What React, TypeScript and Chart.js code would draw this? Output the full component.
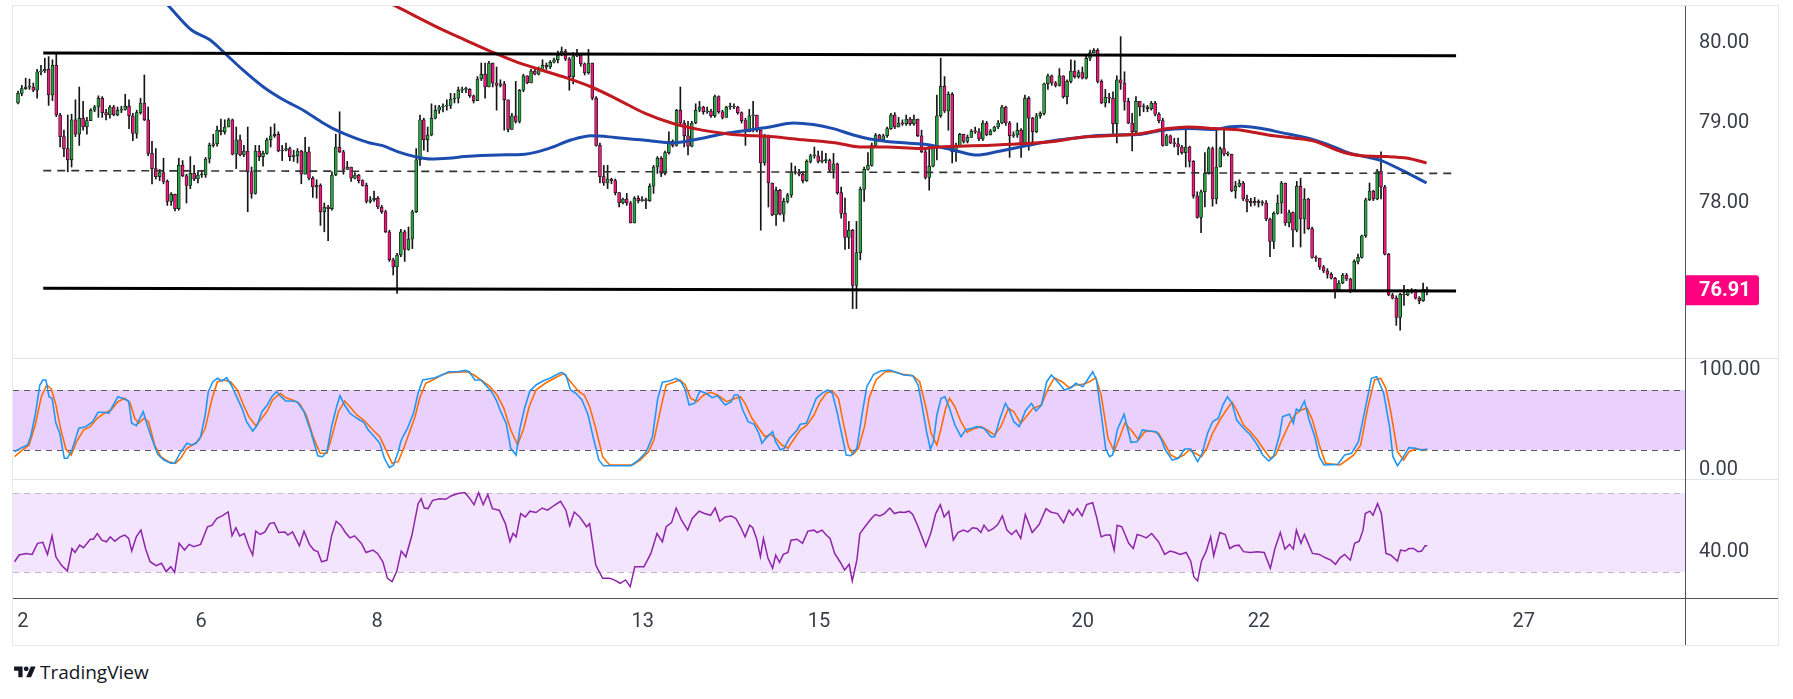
import React, { useEffect, useRef } from 'react';
import { Chart, registerables } from 'chart.js';

Chart.register(...registerables);
Chart.defaults.font.family = 'Roboto, "Noto Sans", sans-serif';

// ---------------- DATA ----------------
const FIRST_OPEN = 79.25;

const closes = [
  79.37, 79.43, 79.45, 79.45, 79.41, 79.64, 79.65, 79.67, 79.35, 79.72,
  79.10, 78.83, 78.68, 78.54, 79.04, 78.86, 79.06, 78.95, 79.03, 79.16,
  79.20, 79.31, 79.13, 79.10, 79.20, 79.10, 79.16, 79.17, 79.21, 79.09,
  78.87, 79.13, 79.25, 79.04, 78.62, 78.43, 78.33, 78.38, 78.27, 78.02,
  78.11, 77.93, 78.47, 78.34, 78.22, 78.37, 78.30, 78.35, 78.35, 78.55,
  78.72, 78.74, 78.91, 78.89, 78.95, 79.04, 78.61, 78.79, 78.60, 78.65,
  78.39, 78.12, 78.65, 78.58, 78.62, 78.79, 78.84, 78.86, 78.65, 78.66,
  78.68, 78.58, 78.59, 78.65, 78.36, 78.64, 78.31, 78.20, 78.22, 77.89,
  77.95, 77.93, 78.35, 78.70, 78.64, 78.42, 78.45, 78.31, 78.35, 78.28,
  78.22, 78.02,
  78.04, 78.06, 77.95, 77.89, 77.64, 77.29, 77.20, 77.35, 77.64, 77.42,
  77.55, 77.89, 78.54, 79.04, 78.79, 78.85, 79.06, 79.16, 79.20, 79.21,
  79.22, 79.30, 79.31, 79.41, 79.42, 79.42, 79.34, 79.28, 79.55, 79.61,
  79.45, 79.75, 79.50, 79.47, 79.49, 79.29, 78.92, 79.09, 79.02, 79.41,
  79.59, 79.50, 79.65, 79.61, 79.67, 79.72, 79.70, 79.76, 79.79, 79.85,
  79.90, 79.80, 79.58, 79.84, 79.85, 79.74, 79.63, 79.75, 79.31, 78.72,
  78.33, 78.25, 78.30, 78.28, 78.13, 78.00, 78.05, 78.00, 77.75, 78.06,
  78.03, 78.04, 78.03, 78.21, 78.45, 78.56, 78.37, 78.63, 78.77, 78.72,
  79.16, 79.00, 78.84, 78.71, 79.00, 79.16, 79.20, 79.14, 79.15, 79.09,
  79.33, 79.14, 79.07,
  79.20, 79.20, 79.20, 79.13, 79.03, 78.89, 79.09, 79.10, 78.91, 78.50,
  78.83, 78.25, 77.85, 78.16, 77.86, 78.02, 78.10, 78.38, 78.38, 78.36,
  78.28, 78.52, 78.59, 78.59, 78.52, 78.53, 78.53, 78.41, 78.49, 78.13,
  77.87, 77.57, 77.66, 76.97, 77.38, 78.17, 78.42, 78.47, 78.72, 78.85,
  78.79, 78.84, 78.93, 79.10, 78.95, 79.00, 78.99, 79.05, 78.99, 79.05,
  78.84, 78.64, 78.32, 78.46, 78.70, 79.09, 79.46, 79.15, 79.36, 78.64,
  78.72, 78.86, 78.77, 78.82, 78.90, 78.89, 78.80, 79.00, 78.85, 78.90,
  78.95, 79.00, 79.20, 79.00, 78.84, 78.85, 78.91, 78.74, 79.31, 79.06,
  78.89, 79.09, 79.12, 79.49, 79.59, 79.50, 79.47, 79.59, 79.33, 79.52,
  79.65, 79.58, 79.63,
  79.56, 79.81, 79.88, 79.91, 79.52, 79.25, 79.32, 79.31, 78.99, 79.54,
  79.50, 79.27, 79.00, 78.89, 79.27, 79.20, 79.20, 79.18, 79.25, 79.11,
  79.03, 78.72, 78.84, 78.75, 78.74, 78.70, 78.63, 78.70, 78.52, 78.09,
  77.82, 78.14, 78.37, 78.68, 78.05, 78.45, 78.68, 78.61, 78.61, 78.15,
  78.21, 78.25, 78.05, 78.02, 78.00, 78.02, 78.00, 78.00, 77.80, 77.52,
  77.87, 78.00, 78.25, 77.75, 77.88, 77.66, 78.21, 77.80, 78.05, 77.68,
  77.32, 77.31, 77.20, 77.15, 77.11, 77.06, 76.91, 77.00, 77.10, 77.05,
  76.92, 77.27, 77.32, 77.59, 78.04, 78.15, 78.05, 78.40, 78.20, 77.36,
  76.85, 76.81, 76.57, 76.86, 76.85, 76.90, 76.90, 76.81, 76.78, 76.92,
  76.91,
];

const highs = [
  79.40, 79.47, 79.56, 79.55, 79.50, 79.67, 79.72, 79.81, 79.83, 79.79,
  79.86, 79.12, 78.91, 79.10, 79.11, 79.29, 79.45, 79.27, 79.07, 79.18,
  79.22, 79.34, 79.33, 79.17, 79.22, 79.22, 79.20, 79.21, 79.36, 79.29,
  79.12, 79.16, 79.31, 79.60, 79.20, 78.77, 78.68, 78.42, 78.56, 78.29,
  78.13, 78.10, 78.56, 78.53, 78.36, 78.58, 78.47, 78.39, 78.40, 78.57,
  78.75, 78.86, 78.96, 79.05, 79.04, 79.06, 79.05, 78.95, 78.85, 78.72,
  78.95, 78.45, 78.72, 78.72, 78.65, 78.81, 78.95, 78.99, 78.89, 78.72,
  78.75, 78.70, 78.66, 78.68, 78.66, 78.82, 78.70, 78.33, 78.29, 78.24,
  78.00, 77.97, 78.39, 78.86, 79.14, 78.66, 78.52, 78.43, 78.38, 78.36,
  78.29, 78.25,
  78.08, 78.15, 78.08, 77.97, 77.91, 77.66, 77.31, 77.37, 77.67, 77.66,
  77.70, 77.91, 78.68, 79.10, 79.06, 78.95, 79.24, 79.22, 79.22, 79.24,
  79.29, 79.37, 79.37, 79.45, 79.45, 79.45, 79.43, 79.35, 79.58, 79.75,
  79.75, 79.77, 79.75, 79.70, 79.54, 79.52, 79.29, 79.12, 79.52, 79.42,
  79.61, 79.58, 79.67, 79.68, 79.70, 79.79, 79.75, 79.78, 79.81, 79.90,
  79.95, 79.92, 79.82, 79.88, 79.92, 79.87, 79.75, 79.92, 79.75, 79.33,
  78.75, 78.47, 78.47, 78.31, 78.30, 78.10, 78.06, 78.12, 78.02, 78.08,
  78.09, 78.08, 78.06, 78.24, 78.47, 78.58, 78.58, 78.65, 78.89, 78.79,
  79.17, 79.45, 79.03, 79.02, 79.02, 79.24, 79.27, 79.21, 79.20, 79.17,
  79.35, 79.34, 79.16,
  79.21, 79.25, 79.24, 79.21, 79.14, 79.06, 79.17, 79.27, 79.07, 78.91,
  78.86, 78.85, 78.25, 78.20, 78.17, 78.06, 78.12, 78.50, 78.46, 78.42,
  78.39, 78.54, 78.61, 78.70, 78.65, 78.65, 78.62, 78.55, 78.62, 78.50,
  78.20, 78.06, 77.77, 77.67, 77.77, 78.20, 78.45, 78.63, 78.75, 78.87,
  78.86, 78.86, 78.95, 79.12, 79.13, 79.07, 79.04, 79.10, 79.07, 79.10,
  79.02, 78.91, 78.66, 78.72, 78.72, 79.35, 79.81, 79.58, 79.39, 79.38,
  78.75, 78.87, 78.86, 78.85, 78.92, 78.95, 78.93, 79.03, 79.02, 78.92,
  78.96, 79.03, 79.22, 79.21, 79.02, 78.89, 79.00, 78.93, 79.35, 79.33,
  79.07, 79.12, 79.14, 79.50, 79.61, 79.60, 79.52, 79.68, 79.52, 79.54,
  79.79, 79.78, 79.66,
  79.70, 79.84, 79.91, 79.93, 79.93, 79.54, 79.42, 79.37, 79.39, 79.59,
  80.08, 79.64, 79.31, 79.12, 79.33, 79.25, 79.24, 79.22, 79.27, 79.27,
  79.13, 79.06, 78.86, 78.85, 78.81, 78.81, 78.72, 78.95, 78.71, 78.53,
  78.14, 78.16, 78.63, 78.70, 78.70, 78.91, 78.70, 78.91, 78.64, 78.61,
  78.27, 78.29, 78.27, 78.10, 78.06, 78.07, 78.04, 78.03, 78.03, 77.81,
  77.89, 78.10, 78.27, 78.25, 77.91, 77.89, 78.27, 78.31, 78.18, 78.06,
  77.70, 77.34, 77.31, 77.22, 77.18, 77.13, 77.07, 77.03, 77.12, 77.12,
  77.06, 77.29, 77.36, 77.60, 78.06, 78.25, 78.16, 78.42, 78.64, 78.22,
  77.37, 76.87, 76.84, 76.87, 76.97, 76.92, 76.93, 76.92, 76.83, 77.00,
  76.95,
];

const lows = [
  79.24, 79.34, 79.42, 79.42, 79.39, 79.31, 79.60, 79.63, 79.22, 79.28,
  79.08, 78.70, 78.58, 78.39, 78.45, 78.83, 78.72, 78.91, 78.86, 79.05,
  79.14, 79.07, 79.07, 79.04, 79.06, 79.09, 79.09, 79.13, 79.16, 78.93,
  78.78, 78.81, 79.11, 79.03, 78.59, 78.24, 78.30, 78.28, 78.24, 77.97,
  77.97, 77.90, 77.91, 78.33, 78.00, 78.18, 78.28, 78.25, 78.32, 78.32,
  78.50, 78.70, 78.71, 78.85, 78.86, 78.95, 78.60, 78.43, 78.59, 78.58,
  77.89, 78.06, 78.11, 78.53, 78.46, 78.61, 78.70, 78.82, 78.64, 78.53,
  78.65, 78.53, 78.52, 78.50, 78.24, 78.36, 78.29, 78.07, 78.06, 77.72,
  77.64, 77.53, 77.91, 78.34, 78.63, 78.36, 78.42, 78.27, 78.30, 78.25,
  78.21, 78.00,
  78.00, 78.02, 77.93, 77.87, 77.63, 77.27, 77.10, 76.87, 77.33, 77.27,
  77.41, 77.43, 77.88, 78.47, 78.66, 78.64, 78.84, 79.05, 79.12, 79.14,
  79.16, 79.18, 79.25, 79.25, 79.38, 79.38, 79.32, 79.25, 79.28, 79.53,
  79.31, 79.45, 79.45, 79.16, 79.45, 78.91, 78.89, 78.92, 79.00, 79.00,
  79.39, 79.49, 79.50, 79.60, 79.60, 79.65, 79.67, 79.68, 79.75, 79.75,
  79.84, 79.78, 79.41, 79.49, 79.83, 79.71, 79.60, 79.61, 79.29, 78.71,
  78.25, 78.22, 78.18, 78.24, 78.10, 77.95, 77.99, 77.97, 77.75, 77.75,
  78.00, 78.02, 77.93, 78.02, 78.12, 78.37, 78.33, 78.35, 78.61, 78.70,
  78.71, 78.99, 78.70, 78.60, 78.70, 78.99, 79.14, 79.11, 79.12, 79.07,
  79.07, 79.12, 79.05,
  79.07, 79.17, 79.18, 79.11, 79.00, 78.72, 78.89, 78.89, 78.89, 77.66,
  78.47, 77.95, 77.84, 77.72, 77.85, 77.77, 78.00, 78.07, 78.36, 78.34,
  78.25, 78.27, 78.50, 78.56, 78.50, 78.50, 78.50, 78.39, 78.31, 78.11,
  77.81, 77.42, 77.43, 76.68, 76.68, 77.29, 78.02, 78.41, 78.46, 78.70,
  78.77, 78.81, 78.82, 78.92, 78.93, 78.95, 78.97, 78.97, 78.97, 78.97,
  78.83, 78.63, 78.30, 78.16, 78.45, 78.54, 79.07, 79.13, 78.91, 78.50,
  78.52, 78.70, 78.75, 78.75, 78.85, 78.87, 78.78, 78.78, 78.84, 78.85,
  78.89, 78.93, 78.99, 78.97, 78.57, 78.82, 78.82, 78.57, 78.72, 78.66,
  78.75, 78.88, 79.06, 79.10, 79.42, 79.47, 79.45, 79.46, 79.31, 79.24,
  79.50, 79.56, 79.56,
  79.55, 79.55, 79.78, 79.88, 79.50, 79.24, 79.20, 79.25, 78.87, 78.75,
  79.42, 79.16, 78.99, 78.65, 78.87, 79.09, 79.14, 79.14, 79.16, 79.09,
  79.00, 78.71, 78.72, 78.74, 78.70, 78.60, 78.61, 78.45, 78.45, 78.06,
  77.81, 77.63, 77.95, 78.36, 77.96, 77.99, 78.45, 78.59, 78.59, 78.14,
  78.06, 78.20, 78.03, 77.89, 77.96, 77.97, 77.95, 77.97, 77.78, 77.33,
  77.43, 77.86, 77.87, 77.72, 77.70, 77.45, 77.64, 77.45, 77.62, 77.67,
  77.31, 77.27, 77.17, 77.13, 77.06, 77.05, 76.81, 76.90, 76.99, 77.03,
  76.88, 76.91, 77.24, 77.31, 77.57, 78.03, 78.03, 78.04, 78.05, 77.35,
  76.84, 76.80, 76.47, 76.41, 76.72, 76.84, 76.87, 76.80, 76.74, 76.77,
  76.85,
];

// moving averages: [bar index, price]
const blueMA = [
  [35, 80.68], [39.4, 80.46], [45.4, 80.16], [50.1, 80.04], [54.5, 79.85], [58.8, 79.66],
  [64.1, 79.45], [69.3, 79.29], [74.5, 79.16], [79.7, 79.0], [82.3, 78.93], [87.6, 78.82],
  [91.9, 78.75], [95.0, 78.72], [99.3, 78.64], [103.7, 78.58], [108.0, 78.55], [112.4, 78.56],
  [116.7, 78.58], [125.4, 78.6], [132.4, 78.61], [138.5, 78.68], [144.6, 78.79], [149.8, 78.84],
  [155.9, 78.82], [164.6, 78.78], [170.7, 78.75], [177.7, 78.8], [184.6, 78.87], [187.7, 78.89],
  [192.0, 78.92], [196.4, 78.95], [202.5, 79.0], [207.7, 78.98], [212.9, 78.93], [218.2, 78.85],
  [222.5, 78.8], [226.9, 78.77], [232.1, 78.75], [237.3, 78.73], [243.4, 78.67], [246.0, 78.64],
  [250.4, 78.6], [255.6, 78.64], [261.7, 78.7], [266.9, 78.75], [272.1, 78.79], [277.4, 78.82],
  [281.3, 78.84], [286.5, 78.85], [293.5, 78.86], [298.7, 78.91], [305.6, 78.93], [312.6, 78.92],
  [316.1, 78.95], [319.6, 78.96], [324.8, 78.93], [330.0, 78.88], [337.0, 78.81], [342.2, 78.73],
  [347.4, 78.63], [352.7, 78.57], [356.1, 78.53], [361.4, 78.41], [367.9, 78.25],
];
const redMA = [
  [92, 80.62], [98.7, 80.46], [111.1, 80.16], [116.7, 80.04], [123.7, 79.89], [129.8, 79.77],
  [136.8, 79.66], [142.9, 79.57], [149.8, 79.45], [156.8, 79.29], [163.8, 79.12], [170.7, 79.0],
  [177.7, 78.92], [184.6, 78.87], [188.6, 78.85], [196.4, 78.83], [205.1, 78.79], [213.8, 78.75],
  [219.9, 78.7], [226.9, 78.7], [235.6, 78.68], [240.8, 78.7], [246.0, 78.71], [253.0, 78.72],
  [261.7, 78.74], [270.4, 78.77], [277.4, 78.82], [284.7, 78.84], [293.5, 78.87], [300.4, 78.93],
  [305.6, 78.95], [312.6, 78.93], [319.6, 78.91], [326.5, 78.85], [333.5, 78.81], [338.7, 78.77],
  [345.7, 78.64], [350.9, 78.59], [357.8, 78.58], [363.0, 78.56], [367.9, 78.5],
];

// drawn channel lines: [bar index, price]
const channelTop = [[6.6, 79.875], [375.6, 79.84]];
const channelMid = [[6.6, 78.405], [375.6, 78.37]];
const channelBottom = [[6.6, 76.935], [375.6, 76.9]];

// Stoch RSI K / D: [bar index, value]
const stochK = [
  [-0.9, 18.3], [0.9, 22.3], [2.5, 25], [3.3, 33.3], [4.5, 55], [5.7, 85], [6.5, 90], [7.3, 90],
  [8.1, 73.3], [8.9, 71.7], [9.9, 46.7], [10.9, 36.7], [12.1, 11.7], [12.9, 11.7], [14.1, 20],
  [15.9, 41.7], [17.7, 43.3], [19.5, 48.3], [20.9, 57.7], [22.5, 57.7], [23.7, 56.7], [24.9, 65],
  [26.1, 73.3], [27.3, 71.7], [28.9, 69], [29.7, 46.7], [30.9, 44.3], [32.7, 58.3], [33.9, 43.3],
  [35.1, 30], [36.5, 15.7], [38.1, 10], [39.9, 6.7], [40.9, 6.7], [42.3, 16.7], [44.1, 26.7],
  [45.3, 25], [46.5, 26.7], [47.7, 33.3], [48.9, 55], [49.7, 78.3], [50.9, 88.3], [52.1, 91.7],
  [53.3, 89], [54.5, 92.3], [55.7, 85], [57.3, 71.7], [58.5, 61.7], [59.7, 48.3], [61.3, 39],
  [62.5, 45], [63.7, 58.3], [65.1, 65], [66.3, 73.3], [67.5, 78.3], [68.7, 73.3], [69.9, 69],
  [71.3, 69], [72.9, 68.3], [74.7, 58.3], [76.5, 38.3], [78.3, 14.3], [79.5, 13.3], [80.7, 18.3],
  [81.9, 43.3], [83.1, 61.7], [84.1, 74.3], [85.3, 65], [86.7, 56.7], [88.5, 51.7], [90.3, 47.7],
  [91.5, 40], [93.3, 32.3], [94.5, 26.7], [95.7, 11.7], [97.0, 2.3], [98.1, 5], [99.3, 18.3],
  [100.1, 30], [101.7, 41.7], [103.3, 56.7], [104.5, 76.7], [105.7, 90], [107.1, 91], [108.9, 92.3],
  [110.7, 95], [112.5, 98.3], [114.9, 98.3], [116.7, 99.6], [117.9, 98.3], [119.3, 90], [120.9, 90],
  [122.1, 85], [123.7, 78.3], [124.9, 70], [126.1, 58.3], [127.5, 46.7], [128.7, 21.7], [130.1, 15],
  [131.1, 41.7], [132.3, 61.7], [133.7, 79], [135.3, 85], [137.1, 89], [138.9, 91.7], [140.5, 95],
  [141.9, 97.6], [143.1, 95], [144.3, 80], [145.7, 76.7], [147.3, 70], [148.9, 55], [150.3, 31.7],
  [151.7, 10], [152.9, 4.3], [160.1, 4.3], [162.1, 10], [164.1, 18.3], [165.7, 33.3], [167.1, 71.7],
  [168.3, 87.7], [170.1, 89], [171.9, 91.7], [173.3, 87.7], [174.3, 80], [175.3, 65], [176.7, 66.7],
  [178.1, 79], [179.7, 76.7], [181.3, 72.3], [182.7, 74.3], [184.7, 65], [186.3, 68.3], [187.1, 75],
  [188.1, 75], [189.3, 60], [190.7, 48.3], [192.3, 45.7], [193.5, 36.7], [194.3, 26.7], [195.3, 31.7],
  [197.1, 38.3], [197.9, 28.3], [199.1, 20], [200.1, 21.7], [201.5, 31.7], [203.5, 40], [204.3, 45.7],
  [205.9, 46.7], [207.3, 60], [208.5, 71.7], [210.0, 76.7], [211.5, 80], [212.7, 76.7], [213.9, 58.3],
  [215.1, 36.7], [216.3, 15], [217.5, 14.3], [219.1, 21.7], [220.5, 56.7], [221.7, 83.3], [223.5, 95.6],
  [225.3, 99], [227.7, 100], [229.5, 97.6], [231.3, 95], [233.7, 94.3], [235.1, 85], [236.1, 65],
  [237.3, 38.3], [238.3, 21], [239.1, 28.3], [240.0, 55], [241.1, 71.7], [242.1, 73.3], [243.3, 61.7],
  [244.7, 45], [246.3, 33.3], [247.5, 40], [249.1, 41.7], [250.5, 43.3], [252.3, 41.7], [254.1, 33.3],
  [255.1, 33.3], [256.5, 51.7], [257.9, 66.7], [258.9, 60], [260.1, 48.3], [261.5, 43.3], [263.1, 59],
  [264.7, 66.7], [265.9, 59], [267.3, 65], [268.7, 88.3], [269.9, 95], [271.9, 86.7], [273.3, 80],
  [275.1, 82.3], [276.3, 86.7], [278.1, 83.3], [279.3, 90], [280.7, 98.3], [281.7, 90], [282.9, 56.7],
  [284.1, 21], [285.1, 13.3], [285.9, 15], [287.1, 40], [288.9, 55.7], [290.7, 27.7], [292.3, 28.3],
  [293.7, 40], [295.5, 39], [297.3, 38.3], [298.5, 31.7], [299.7, 20], [301.5, 10], [303.1, 11.7],
  [304.7, 21], [306.3, 21], [308.1, 8.3], [309.3, 16.7], [310.7, 36.7], [312.0, 48.3], [313.5, 51.7],
  [314.7, 65], [315.9, 73.3], [317.1, 66.7], [318.3, 50], [320.1, 41.7], [321.9, 35], [323.7, 25],
  [325.1, 15], [326.7, 9], [327.9, 13.3], [329.5, 35], [330.3, 53.3], [332.1, 55.7], [333.1, 46.7],
  [333.9, 61], [334.7, 59], [336.0, 69], [337.1, 51.7], [338.7, 33.3], [339.9, 13.3], [341.1, 5],
  [344.7, 5.6], [346.5, 15], [348.3, 16.7], [350.1, 28.3], [351.9, 61.7], [353.5, 91.7], [354.9, 93.3],
  [356.7, 76.7], [358.3, 41.7], [359.1, 13.3], [360.3, 4.3], [361.5, 11], [363.3, 22.3], [365.1, 21.7],
  [366.3, 20], [368.1, 21],
];
const stochD = [
  [-0.9, 13.3], [1.5, 21], [2.9, 25], [4.5, 45], [6.1, 73.3], [7.5, 85], [8.7, 81], [9.9, 65],
  [11.1, 41.7], [12.5, 21], [13.9, 15], [15.3, 28.3], [17.1, 40], [18.9, 43.3], [20.7, 51.7],
  [22.5, 56.7], [24.3, 60], [26.1, 68.3], [27.9, 71.7], [29.3, 66.7], [30.5, 51.7], [31.5, 46.7],
  [32.9, 51.7], [34.1, 48.3], [35.7, 25], [37.3, 13.3], [39.3, 8.3], [41.1, 6.7], [42.5, 11.7],
  [44.1, 21.7], [45.9, 25.7], [47.3, 30], [48.9, 41.7], [50.7, 71.7], [52.1, 88.3], [53.7, 90],
  [55.5, 88.3], [57.3, 80], [58.9, 65], [60.3, 53.3], [62.1, 44.3], [63.7, 51.7], [65.1, 59],
  [66.5, 70], [68.5, 76.7], [69.9, 72.3], [71.7, 70], [73.5, 66.7], [75.3, 55], [77.1, 33.3],
  [78.9, 16.7], [80.7, 16.7], [82.1, 35], [83.7, 58.3], [85.3, 69], [86.7, 63.3], [88.5, 55],
  [90.3, 50], [92.7, 40], [94.5, 33.3], [96.3, 18.3], [97.7, 6.7], [99.3, 8.3], [100.9, 23.3],
  [102.3, 38.3], [103.7, 53.3], [104.9, 71.7], [106.5, 86.7], [108.3, 90], [110.7, 95], [112.5, 97.3],
  [117.3, 98.3], [119.1, 95], [120.9, 90], [123.3, 83.3], [125.1, 75], [126.9, 61.7], [128.7, 40],
  [130.5, 25], [132.1, 41.7], [133.5, 63.3], [135.3, 80], [137.7, 86.7], [140.1, 91.7], [142.5, 96.7],
  [144.3, 88.3], [146.5, 78.3], [147.9, 75], [149.3, 63.3], [150.9, 41.7], [152.7, 13.3], [154.5, 5],
  [160.5, 5], [162.5, 10], [164.7, 18.3], [166.1, 30], [167.7, 58.3], [169.3, 85], [171.3, 87.7],
  [172.9, 90], [174.3, 85], [175.7, 71.7], [177.3, 68.3], [179.1, 75], [180.9, 77.7], [182.7, 75],
  [185.1, 68.3], [186.9, 71], [188.7, 73.3], [189.9, 66.7], [191.7, 51.7], [193.5, 41.7], [195.1, 33.3],
  [196.5, 35.7], [197.9, 31.7], [199.5, 25], [201.1, 21.7], [202.5, 30], [204.3, 40], [206.1, 45],
  [207.9, 55], [209.5, 68.3], [211.1, 76.7], [212.7, 79], [214.3, 71.7], [215.5, 48.3], [216.9, 23.3],
  [218.1, 15.7], [219.5, 21.7], [221.1, 43.3], [222.3, 71.7], [224.1, 90], [226.5, 98.3], [228.9, 98.3],
  [231.3, 95.6], [233.7, 94.3], [235.5, 88.3], [237.1, 63.3], [238.5, 36.7], [240.0, 25], [241.1, 41.7],
  [242.3, 61.7], [243.3, 71.7], [244.7, 63.3], [246.3, 48.3], [247.9, 37.7], [249.5, 41], [251.5, 43.3],
  [253.1, 40], [255.1, 35], [256.7, 43.3], [258.7, 61.7], [260.1, 58.3], [261.9, 46.7], [263.7, 55],
  [265.1, 61.7], [267.3, 65], [269.1, 81.7], [270.7, 92.3], [272.7, 88.3], [274.5, 82.3], [276.3, 85],
  [278.1, 85.7], [279.9, 88.3], [281.5, 92.3], [282.9, 75], [284.7, 31.7], [286.3, 19], [287.7, 32.3],
  [289.1, 46.7], [291.1, 38.3], [292.7, 30], [294.3, 38.3], [296.1, 39], [297.9, 36.7], [299.5, 26.7],
  [301.1, 15], [302.7, 11.7], [304.5, 15], [305.9, 20], [307.5, 16.7], [309.1, 13.3], [310.5, 21.7],
  [312.0, 36.7], [313.9, 50], [315.3, 58.3], [317.1, 67.7], [318.3, 60], [320.1, 45], [321.9, 38.3],
  [323.7, 30], [325.5, 20], [327.1, 11.7], [328.5, 15], [330.3, 31.7], [332.1, 46.7], [333.5, 55],
  [335.1, 60], [336.7, 61.7], [338.1, 50], [339.9, 25], [341.5, 6.7], [345.3, 5], [347.1, 10],
  [348.9, 15], [350.7, 25], [352.5, 61.7], [354.3, 90], [355.9, 91.7], [357.3, 81.7], [358.7, 55],
  [360.3, 18.3], [361.9, 10], [363.3, 18.3], [365.1, 21], [368.1, 20],
];

// RSI: [bar index, value]
const rsi = [
  [-0.9, 35.2], [0.3, 38.6], [2.1, 39.4], [3.7, 38.9], [5.1, 44.5], [6.5, 45], [7.7, 38.9], [8.9, 48.3],
  [9.9, 37.7], [11.3, 33.5], [12.9, 30.5], [14.1, 41.9], [14.9, 39.9], [16.1, 43.6], [17.1, 42.3],
  [18.9, 46.6], [19.7, 46.6], [20.7, 49.5], [21.9, 46.1], [23.1, 45.3], [24.1, 47.8], [25.3, 45.6],
  [26.7, 47.8], [27.9, 48.7], [28.9, 47], [29.7, 40.6], [30.9, 47.8], [32.1, 51.2], [33.3, 41.9],
  [34.5, 35.2], [36.1, 33.2], [37.5, 34.4], [38.7, 30.2], [39.9, 32.7], [40.9, 29.8], [42.1, 44.5],
  [43.5, 41.1], [44.7, 44], [45.9, 42.8], [47.7, 44], [49.5, 52.9], [50.7, 53.7], [51.9, 57.1],
  [53.3, 58.4], [54.9, 60.4], [55.9, 48.3], [56.9, 52.4], [57.9, 48.3], [59.1, 49.5], [60.3, 42.8],
  [61.3, 38.6], [62.1, 50.7], [63.3, 49], [64.5, 50.3], [65.7, 54.5], [66.9, 55], [68.1, 50],
  [69.7, 50.3], [70.5, 48.7], [71.7, 50.3], [73.5, 43.3], [74.7, 50.7], [76.1, 44], [77.3, 41.1],
  [78.3, 40.3], [79.3, 35.2], [80.7, 36], [81.9, 48.3], [83.1, 55.7], [84.3, 53.7], [85.5, 50],
  [86.7, 47.3], [87.9, 48.3], [89.7, 44.5], [90.9, 39.9], [92.7, 41.1], [93.9, 39.4], [95.3, 35.2],
  [96.5, 26.8], [97.7, 25.1], [98.9, 30.2], [100.1, 40.6], [101.3, 37.7], [102.9, 48.7], [104.5, 64.6],
  [105.3, 67.1], [106.1, 62.4], [107.1, 62.1], [108.3, 66.3], [110.1, 67.1], [111.7, 66.8], [113.1, 68.5],
  [114.9, 69.7], [116.7, 70.2], [117.9, 67.5], [119.1, 64.1], [120.3, 70.2], [121.5, 64.1], [122.7, 69.2],
  [123.9, 62.1], [125.7, 61.3], [127.3, 54.5], [128.5, 45.3], [129.3, 49.5], [130.1, 47.8], [131.3, 59.6],
  [132.5, 57.9], [133.7, 60.8], [135.3, 60.1], [136.9, 62.4], [138.3, 61.3], [140.1, 63.8], [141.7, 65.8],
  [143.1, 61.3], [144.1, 53.4], [145.3, 60.4], [146.7, 57.9], [148.5, 52.9], [149.3, 54.5], [150.9, 33.5],
  [152.7, 26.8], [154.5, 26.8], [155.7, 26], [157.3, 24.3], [158.7, 26], [159.9, 22.6], [161.1, 32.7],
  [163.5, 32.7], [165.3, 39.4], [166.9, 49.5], [168.3, 45.3], [169.3, 52.9], [170.7, 55], [171.9, 62.4],
  [173.3, 56.2], [174.9, 51.2], [176.1, 57.1], [177.9, 60.8], [179.3, 59.6], [180.9, 58.7], [182.1, 62.4],
  [183.3, 55.7], [184.7, 57.9], [186.3, 58.4], [187.5, 57.1], [188.7, 52.9], [189.9, 47.8], [191.1, 53.7],
  [191.9, 52.4], [192.9, 47], [193.9, 37.7], [194.7, 47], [195.9, 36.9], [197.1, 31.9], [197.9, 38.6],
  [198.9, 34.9], [199.9, 38.9], [201.1, 39.9], [201.9, 46.1], [203.5, 46.6], [204.9, 44.5], [206.3, 50.7],
  [207.9, 51.2], [208.7, 50], [210.0, 51.2], [211.1, 48.7], [212.1, 47], [213.3, 39.4], [214.7, 35.2],
  [215.9, 31], [217.1, 33.9], [217.9, 25.5], [219.1, 36], [219.9, 49.5], [221.5, 53.7], [222.9, 57.1],
  [223.9, 59.1], [225.1, 58.4], [226.3, 59.6], [227.7, 62.4], [228.9, 59.6], [230.3, 60.4], [231.5, 60.1],
  [232.7, 60.8], [233.7, 59.1], [235.1, 52.9], [236.1, 47.8], [237.1, 42.8], [238.5, 50.3], [239.7, 59.6],
  [240.9, 64.1], [241.9, 57.9], [243.1, 60.8], [244.3, 46.1], [245.5, 50], [246.9, 51.2], [248.1, 50.3],
  [249.3, 52.4], [250.5, 52], [251.5, 50], [252.3, 53.7], [253.5, 50.7], [254.7, 52], [255.9, 54],
  [257.1, 58.4], [258.3, 51.2], [259.5, 49], [260.7, 51.2], [261.9, 47], [263.1, 59.1], [264.9, 50],
  [266.7, 54], [268.5, 62.1], [269.7, 60.4], [271.5, 59.6], [273.1, 55], [274.5, 61.3], [275.5, 58.7],
  [276.7, 62.1], [277.9, 58.4], [279.1, 64.1], [280.7, 65.1], [281.7, 57.9], [282.9, 47.8], [284.1, 48.7],
  [285.3, 48.7], [286.3, 41.1], [287.1, 53.7], [288.3, 52.9], [290.1, 44.5], [291.3, 41.9], [292.3, 49],
  [293.5, 48.3], [294.7, 47.3], [296.1, 49.5], [297.9, 45.3], [299.5, 38.9], [300.9, 40.6], [302.3, 39.9],
  [303.5, 38.9], [305.1, 39.9], [306.3, 35.5], [307.1, 27.6], [308.1, 25.5], [309.1, 35.5], [310.3, 40.3],
  [311.5, 47.8], [312.3, 38.2], [313.9, 50], [315.3, 49], [316.5, 41.9], [317.7, 43.3], [318.9, 43.6],
  [320.1, 40.3], [321.9, 39.9], [323.7, 40.3], [325.5, 39.9], [327.1, 31.9], [328.3, 41.9], [329.7, 50],
  [330.9, 41.6], [332.1, 44], [333.1, 41.6], [333.9, 51.2], [335.1, 44.5], [336.0, 49], [337.1, 44],
  [338.1, 39.4], [339.9, 38.9], [341.5, 37.2], [342.9, 36], [344.1, 33.9], [345.3, 37.2], [346.5, 38.9],
  [348.0, 36], [349.1, 44.5], [350.3, 45.6], [351.3, 51.2], [351.9, 59.6], [353.1, 60.8], [353.9, 58.7],
  [355.1, 64.6], [356.1, 59.6], [357.3, 39.4], [358.5, 38.6], [360.3, 35.5], [361.1, 41.1], [362.3, 40.6],
  [363.3, 41.9], [364.5, 41.9], [365.7, 40.3], [366.6, 40.6], [367.5, 43.3], [368.1, 43.3],
];

const priceTicks = [78, 79, 80];
const stochTicks = [0, 100];
const rsiTicks = [40];
const stochBand = [20, 80];
const rsiBand = [30, 70];
const dayTickPos = [1.3, 47.8, 93.8, 163.2, 209.2, 278.1, 324.1, 393.3];
const dayTickLabels = ['2', '6', '8', '13', '15', '20', '22', '27'];

// ---------------- STYLE / LAYOUT ----------------
const X_MIN = -1.306;
const X_MAX = 435.4;
const AXIS_W = 93;
const TEXT = '#3b3e48';
const GREEN = '#26a541';
const PINK = '#f2157c';
const FONT = { family: 'Roboto, "Noto Sans", sans-serif', size: 20 };

const pts = (arr: number[][]) => arr.map(([x, y]) => ({ x, y }));

function yAxis(min: number, max: number, ticks: number[]) {
  return {
    position: 'right' as const,
    min,
    max,
    grid: { display: false, drawTicks: false },
    border: { display: false },
    afterBuildTicks: (s: any) => {
      s.ticks = ticks.map((v) => ({ value: v }));
    },
    afterFit: (s: any) => {
      s.width = AXIS_W;
      s.paddingTop = 0;
      s.paddingBottom = 0;
    },
    ticks: {
      padding: 14,
      color: TEXT,
      font: FONT,
      autoSkip: false,
      callback: (v: any) => Number(v).toFixed(2),
    },
  };
}

const hiddenX = { type: 'linear' as const, min: X_MIN, max: X_MAX, display: false, offset: false };

function bandPlugin(band: number[], fill: string, line: string) {
  return {
    id: 'band',
    beforeDatasetsDraw(chart: any) {
      const { ctx, chartArea, scales } = chart;
      const y = scales.y;
      const top = y.getPixelForValue(band[1]);
      const bot = y.getPixelForValue(band[0]);
      ctx.save();
      ctx.fillStyle = fill;
      ctx.fillRect(chartArea.left, top, chartArea.right - chartArea.left, bot - top);
      ctx.strokeStyle = line;
      ctx.lineWidth = 1;
      ctx.setLineDash([6, 5]);
      [top, bot].forEach((py) => {
        ctx.beginPath();
        ctx.moveTo(chartArea.left, Math.round(py) + 0.5);
        ctx.lineTo(chartArea.right, Math.round(py) + 0.5);
        ctx.stroke();
      });
      ctx.restore();
    },
  };
}

const lastPricePlugin = {
  id: 'lastPrice',
  afterDraw(chart: any) {
    const { ctx, chartArea, scales } = chart;
    const last = closes[closes.length - 1];
    const py = scales.y.getPixelForValue(last);
    ctx.save();
    ctx.fillStyle = '#ff0080';
    const x0 = chartArea.right;
    ctx.beginPath();
    if (ctx.roundRect) ctx.roundRect(x0, py - 15, 74, 30, [0, 3, 3, 0]);
    else ctx.rect(x0, py - 15, 74, 30);
    ctx.fill();
    ctx.fillStyle = '#ffffff';
    ctx.font = 'bold 20px Roboto, "Noto Sans", sans-serif';
    ctx.textBaseline = 'middle';
    ctx.textAlign = 'left';
    ctx.fillText(last.toFixed(2), x0 + 14, py + 1);
    ctx.restore();
  },
};

export default function App() {
  const mainRef = useRef<HTMLCanvasElement>(null);
  const stochRef = useRef<HTMLCanvasElement>(null);
  const rsiRef = useRef<HTMLCanvasElement>(null);

  useEffect(() => {
    const opens = closes.map((c, i) => (i === 0 ? FIRST_OPEN : closes[i - 1]));
    const bodies = closes.map((c, i) => ({ x: i, y: [opens[i], c] }));
    const wicks = closes.map((c, i) => ({
      x: i,
      y: [Math.min(lows[i], opens[i], c), Math.max(highs[i], opens[i], c)],
    }));
    const up = closes.map((c, i) => c >= opens[i]);

    const main = new Chart(mainRef.current!, {
      type: 'bar',
      data: {
        datasets: [
          { type: 'line', data: pts(channelTop), borderColor: '#000', borderWidth: 3, pointRadius: 0, order: -3 } as any,
          { type: 'line', data: pts(channelMid), borderColor: '#333', borderWidth: 1.6, borderDash: [8, 6], pointRadius: 0, order: -3 } as any,
          { type: 'line', data: pts(channelBottom), borderColor: '#000', borderWidth: 3, pointRadius: 0, order: -3 } as any,
          { type: 'line', data: pts(redMA), borderColor: '#c0191f', borderWidth: 3, pointRadius: 0, cubicInterpolationMode: 'monotone', order: -2 } as any,
          { type: 'line', data: pts(blueMA), borderColor: '#1c4cae', borderWidth: 3, pointRadius: 0, cubicInterpolationMode: 'monotone', order: -1 } as any,
          {
            type: 'bar',
            data: bodies,
            backgroundColor: (ctx: any) => (up[ctx.dataIndex] ? GREEN : PINK),
            borderColor: '#151515',
            borderWidth: 0.8,
            borderSkipped: false,
            barThickness: 3,
            minBarLength: 1,
            grouped: false,
            order: 0,
          } as any,
          { type: 'bar', data: wicks, backgroundColor: '#151515', barThickness: 1, grouped: false, order: 1 } as any,
        ],
      },
      options: {
        responsive: false,
        animation: false,
        events: [],
        layout: { padding: 0 },
        plugins: { legend: { display: false }, tooltip: { enabled: false } },
        scales: { x: hiddenX, y: yAxis(76.0625, 80.4625, priceTicks) as any },
      },
      plugins: [lastPricePlugin],
    });

    const stoch = new Chart(stochRef.current!, {
      type: 'line',
      data: {
        datasets: [
          { data: pts(stochK), borderColor: '#2196f3', borderWidth: 1.6, pointRadius: 0, tension: 0 },
          { data: pts(stochD), borderColor: '#ff6d00', borderWidth: 1.6, pointRadius: 0, tension: 0 },
        ],
      },
      options: {
        responsive: false,
        animation: false,
        events: [],
        layout: { padding: 0 },
        plugins: { legend: { display: false }, tooltip: { enabled: false } },
        scales: { x: hiddenX, y: yAxis(-9, 112, stochTicks) as any },
      },
      plugins: [bandPlugin(stochBand, '#e9d0fd', '#5a5a5a')],
    });

    const rsiChart = new Chart(rsiRef.current!, {
      type: 'line',
      data: {
        datasets: [{ data: pts(rsi), borderColor: '#8e24aa', borderWidth: 1.5, pointRadius: 0, tension: 0 }],
      },
      options: {
        responsive: false,
        animation: false,
        events: [],
        layout: { padding: 0 },
        plugins: { legend: { display: false }, tooltip: { enabled: false } },
        scales: {
          x: {
            type: 'linear',
            min: X_MIN,
            max: X_MAX,
            offset: false,
            grid: { display: false, drawTicks: false },
            border: { display: false },
            afterBuildTicks: (s: any) => {
              s.ticks = dayTickPos.map((v) => ({ value: v }));
            },
            afterFit: (s: any) => {
              s.height = 47;
              s.paddingLeft = 0;
              s.paddingRight = 0;
            },
            ticks: {
              padding: 12,
              color: TEXT,
              font: FONT,
              autoSkip: false,
              maxRotation: 0,
              minRotation: 0,
              callback: (_v: any, i: number) => dayTickLabels[i],
            },
          } as any,
          y: yAxis(16.84, 77.09, rsiTicks) as any,
        },
      },
      plugins: [bandPlugin(rsiBand, '#f3e5fd', '#c0b8c8')],
    });

    return () => {
      main.destroy();
      stoch.destroy();
      rsiChart.destroy();
    };
  }, []);

  const abs = (s: any) => ({ position: 'absolute' as const, ...s });

  return (
    <div style={abs({ left: 0, top: 0, width: 1793, height: 699, background: '#fff', overflow: 'hidden' })}>
      <canvas ref={mainRef} width={1765} height={352} style={abs({ left: 13, top: 6 })} />
      <canvas ref={stochRef} width={1765} height={121} style={abs({ left: 13, top: 358 })} />
      <canvas ref={rsiRef} width={1765} height={166} style={abs({ left: 13, top: 479 })} />
      {/* frame & separators */}
      <div style={abs({ left: 12, top: 5, width: 1767, height: 641, border: '1px solid #e6e8ee', boxSizing: 'border-box', pointerEvents: 'none' })} />
      <div style={abs({ left: 13, top: 358, width: 1765, height: 1, background: '#e0e3eb' })} />
      <div style={abs({ left: 13, top: 479, width: 1765, height: 1, background: '#e0e3eb' })} />
      <div style={abs({ left: 13, top: 598, width: 1765, height: 1, background: '#50535e' })} />
      <div style={abs({ left: 1685, top: 6, width: 1, height: 639, background: '#50535e' })} />
      {/* logo */}
      <div style={abs({ left: 14, top: 662, height: 20, display: 'flex', alignItems: 'center', gap: 4 })}>
        <svg width="22" height="17" viewBox="0 0 36 28">
          <path d="M14 22H7V11H0V4h14v18zM28 22h-8l7.5-18h8L28 22z" fill="#131722" />
          <circle cx="20" cy="8" r="4" fill="#131722" />
        </svg>
        <span style={{ fontFamily: '"Open Sans", Roboto, sans-serif', fontSize: 19, color: '#131722', lineHeight: '20px' }}>
          TradingView
        </span>
      </div>
    </div>
  );
}
